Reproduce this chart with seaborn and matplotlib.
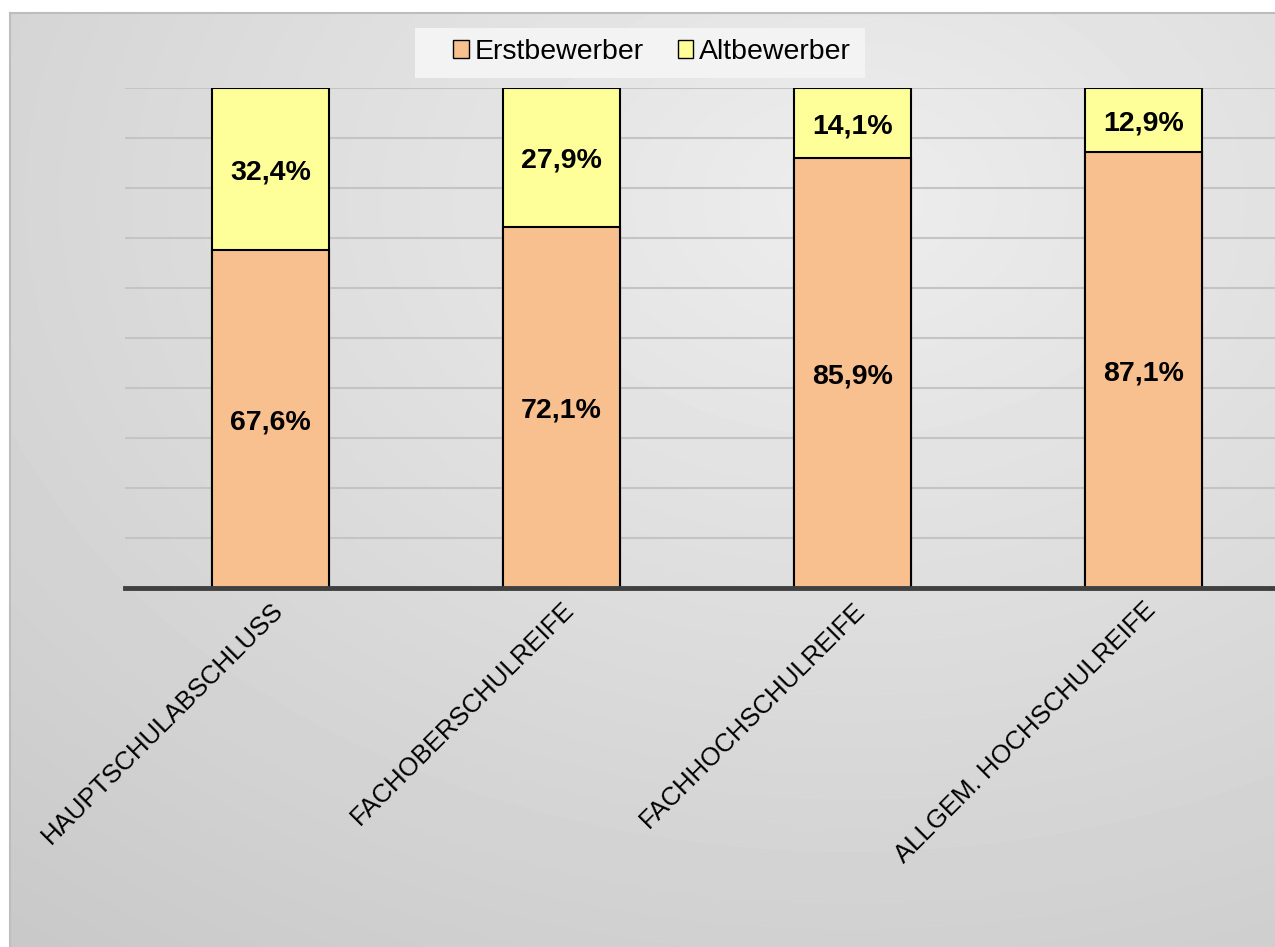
import numpy as np
import pandas as pd
import matplotlib
matplotlib.use('Agg')
import matplotlib.pyplot as plt
import seaborn as sns
from matplotlib.patches import Patch

# data
categories = ['HAUPTSCHULABSCHLUSS', 'FACHOBERSCHULREIFE', 'FACHHOCHSCHULREIFE', 'ALLGEM. HOCHSCHULREIFE']
erstbewerber = [67.6, 72.1, 85.9, 87.1]
altbewerber = [32.4, 27.9, 14.1, 12.9]

erst_color = '#F9C08F'
alt_color = '#FFFF99'

sns.set_style('white')
plt.rcParams['font.family'] = ['Liberation Sans', 'DejaVu Sans']
plt.rcParams['text.color'] = 'black'
plt.rcParams['xtick.color'] = 'black'

df = pd.DataFrame({'cat': categories, 'erst': erstbewerber, 'alt': altbewerber})
df['total'] = df['erst'] + df['alt']

W, H = 1275, 947
fig = plt.figure(figsize=(W / 100, H / 100), dpi=100)
fig.patch.set_facecolor('white')

# gradient chart-area background (light near top centre-right, darker to the edges)
bg = fig.add_axes([10 / W, 0, 1 - 10 / W, 1 - 13 / H])
px, py = np.meshgrid(np.linspace(10, W, 400), np.linspace(13, H, 300))
d = np.sqrt(((px - 850) / 1100) ** 2 + ((py - 200) / 800) ** 2)
grad = np.clip(0.93 - 0.12 * d, 0.76, 0.96)
bg.imshow(grad, cmap='gray', vmin=0, vmax=1, aspect='auto', extent=[0, 1, 0, 1],
          origin='upper', interpolation='bilinear')
bg.set_xlim(0, 1)
bg.set_ylim(0, 1)
bg.set_xticks([])
bg.set_yticks([])
for s in ['right', 'bottom']:
    bg.spines[s].set_visible(False)
for s in ['top', 'left']:
    bg.spines[s].set_color('#bdbdbd')
    bg.spines[s].set_linewidth(1.5)

# legend background box
fig.patches.append(plt.Rectangle((415 / W, 1 - 78 / H), 450 / W, 50 / H,
                                 transform=fig.transFigure, facecolor='#f3f3f3',
                                 edgecolor='none', zorder=1))

ax = fig.add_axes([125 / W, 1 - 588 / H, 1 - 125 / W, 500 / H])
ax.patch.set_alpha(0)

sns.barplot(data=df, x='cat', y='total', color=alt_color, width=0.4,
            edgecolor='black', linewidth=1.5, saturation=1, ax=ax, zorder=3)
sns.barplot(data=df, x='cat', y='erst', color=erst_color, width=0.4,
            edgecolor='black', linewidth=1.5, saturation=1, ax=ax, zorder=4)

ax.set_ylim(0, 100)
ax.set_xlim(-0.5, -0.5 + (W - 125) / 291)
ax.set_yticks(np.arange(0, 101, 10))
ax.set_yticklabels([])
ax.tick_params(axis='y', length=0)
ax.tick_params(axis='x', length=0, pad=7)
ax.grid(axis='y', color='#c4c4c4', linewidth=1.5, zorder=0)
ax.set_axisbelow(True)
for s in ['top', 'right', 'left']:
    ax.spines[s].set_visible(False)
ax.spines['bottom'].set_color('#404040')
ax.spines['bottom'].set_linewidth(3.5)
ax.spines['bottom'].set_zorder(6)
ax.set_xlabel('')
ax.set_ylabel('')

ax.set_xticks(range(len(categories)))
ax.set_xticklabels(categories, rotation=45, ha='right', rotation_mode='anchor', fontsize=18.5)

# value labels
for i in range(len(categories)):
    e = erstbewerber[i]
    a = altbewerber[i]
    ax.text(i, e / 2, f'{e:.1f}%'.replace('.', ','), ha='center', va='center_baseline',
            fontsize=20.5, fontweight='bold', zorder=7)
    ax.text(i, e + a / 2, f'{a:.1f}%'.replace('.', ','), ha='center', va='center_baseline',
            fontsize=20.5, fontweight='bold', zorder=7)

handles = [Patch(facecolor=erst_color, edgecolor='black', linewidth=1),
           Patch(facecolor=alt_color, edgecolor='black', linewidth=1)]
fig.legend(handles, ['Erstbewerber', 'Altbewerber'], loc='center',
           bbox_to_anchor=(652 / W, 1 - 52 / H), ncol=2, frameon=False,
           fontsize=20.5, handlelength=0.55, handleheight=0.55, handletextpad=0.2,
           columnspacing=1.2)

fig.savefig('out.png', dpi=100)
